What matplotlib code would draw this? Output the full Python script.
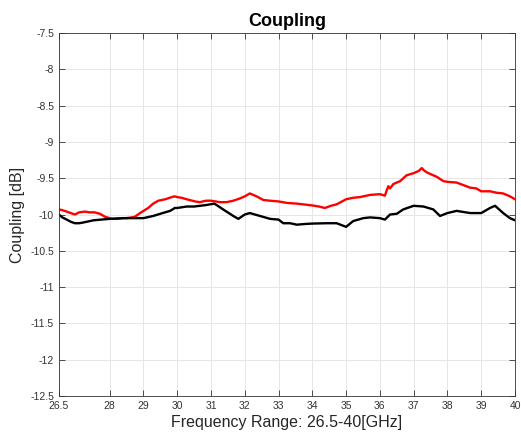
import numpy as np
import matplotlib
matplotlib.use("Agg")
import matplotlib.pyplot as plt

plt.rcParams['font.family'] = ['Liberation Sans', 'DejaVu Sans']

# red trace
freq_red = [26.5, 26.6, 26.73, 26.85, 26.97, 27.1, 27.27, 27.4, 27.55, 27.71, 27.86,
            28.06, 28.21, 28.4, 28.5, 28.65, 28.75, 28.9, 29.14, 29.29, 29.44,
            29.65, 29.84, 29.93, 30.0, 30.13, 30.28, 30.53, 30.67, 30.85, 31.0,
            31.27, 31.46, 31.66, 31.85, 32.0, 32.15, 32.35, 32.55, 32.75, 33.0,
            33.24, 33.54, 33.73, 34.0, 34.2, 34.37, 34.55, 34.72, 35.0, 35.2,
            35.41, 35.71, 36.0, 36.15, 36.2, 36.25, 36.3, 36.4, 36.6, 36.79, 37.0,
            37.15, 37.24, 37.3, 37.39, 37.58, 37.68, 37.88, 38.0, 38.27, 38.5, 38.67,
            38.85, 39.0, 39.26, 39.45, 39.65, 39.85, 40.0]
coup_red = [-9.93, -9.94, -9.96, -9.98, -10.0, -9.97, -9.96, -9.97, -9.97, -9.99, -10.03,
            -10.06, -10.06, -10.05, -10.05, -10.04, -10.03, -9.98, -9.91, -9.85, -9.81,
            -9.79, -9.76, -9.75, -9.76, -9.77, -9.79, -9.82, -9.83, -9.81, -9.81,
            -9.83, -9.83, -9.81, -9.78, -9.75, -9.71, -9.75, -9.80, -9.81, -9.82,
            -9.84, -9.85, -9.86, -9.875, -9.89, -9.91, -9.88, -9.86, -9.79, -9.77,
            -9.76, -9.73, -9.72, -9.74, -9.67, -9.61, -9.64, -9.58, -9.54, -9.46, -9.43,
            -9.40, -9.36, -9.39, -9.42, -9.46, -9.48, -9.54, -9.55, -9.56, -9.60, -9.63,
            -9.64, -9.68, -9.68, -9.70, -9.71, -9.75, -9.79]

# black trace
freq_blk = [26.5, 26.6, 26.73, 26.85, 26.97, 27.1, 27.22, 27.52, 27.75, 28.0, 28.4,
            28.75, 29.0, 29.29, 29.64, 29.79, 29.93, 30.0, 30.28, 30.5, 30.85,
            31.1, 31.2, 31.36, 31.66, 31.81, 32.0, 32.15, 32.45, 32.75, 33.0,
            33.14, 33.34, 33.54, 33.8, 34.0, 34.42, 34.72, 35.0, 35.21, 35.51,
            35.71, 36.0, 36.15, 36.3, 36.5, 36.69, 37.0, 37.29, 37.58, 37.78,
            38.0, 38.27, 38.67, 39.0, 39.26, 39.41, 39.65, 39.85, 40.0]
coup_blk = [-10.0, -10.04, -10.07, -10.10, -10.12, -10.12, -10.11, -10.08, -10.07, -10.06, -10.05,
            -10.05, -10.05, -10.02, -9.97, -9.95, -9.91, -9.91, -9.89, -9.89, -9.87,
            -9.85, -9.88, -9.93, -10.02, -10.06, -10.0, -9.98, -10.02, -10.06, -10.07,
            -10.12, -10.12, -10.14, -10.13, -10.125, -10.12, -10.12, -10.17, -10.09, -10.05,
            -10.04, -10.05, -10.07, -10.0, -9.99, -9.93, -9.88, -9.89, -9.93, -10.02,
            -9.98, -9.95, -9.98, -9.98, -9.91, -9.88, -9.98, -10.05, -10.08]

xticks = [26.5, 28, 29, 30, 31, 32, 33, 34, 35, 36, 37, 38, 39, 40]
yticks = np.arange(-12.5, -7.49, 0.5)

fig = plt.figure(figsize=(5.21, 4.36), dpi=100)
ax = fig.add_axes([0.1132, 0.0917, 0.8753, 0.8326])

ax.plot(freq_red, coup_red, color='red', lw=1.7)
ax.plot(freq_blk, coup_blk, color='black', lw=1.7)

ax.set_xlim(26.5, 40)
ax.set_ylim(-12.5, -7.5)
ax.set_xticks(xticks)
ax.set_xticklabels(["%g" % t for t in xticks])
ax.set_yticks(yticks)
ax.set_yticklabels(["%g" % t for t in yticks])
ax.tick_params(direction='in', top=True, right=True, labelsize=7.5,
               colors='#333333', length=4, width=0.6)
ax.grid(True, color='#e6e6e6', lw=0.7)
ax.set_axisbelow(True)
for s in ax.spines.values():
    s.set_color('#333333')
    s.set_linewidth(0.6)

ax.set_title("Coupling", fontsize=13, fontweight='bold', pad=5)
ax.set_xlabel("Frequency Range: 26.5-40[GHz]", fontsize=11.5, color='#262626', labelpad=3)
ax.set_ylabel("Coupling [dB]", fontsize=11.5, color='#262626', labelpad=4)

fig.savefig("out.png", dpi=100)
